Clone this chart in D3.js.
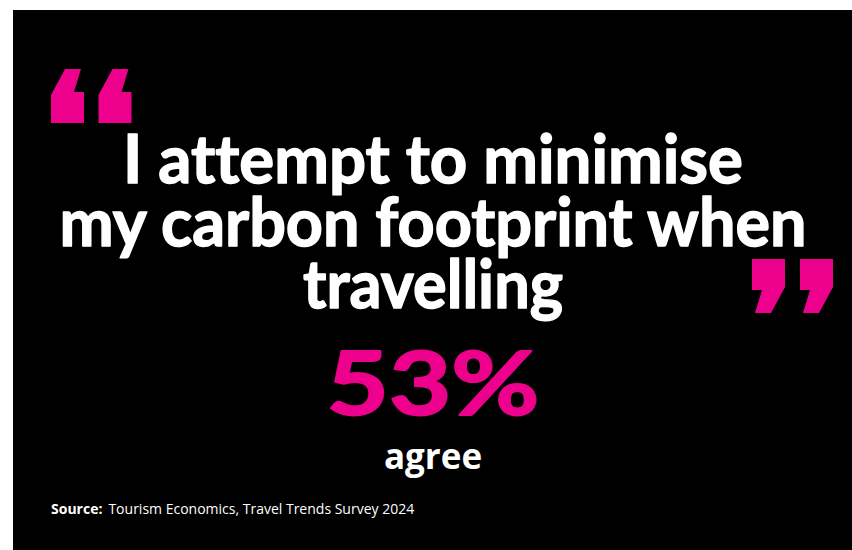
<!DOCTYPE html>
<html><head><meta charset="utf-8">
<script src="https://cdn.jsdelivr.net/npm/d3@7"></script>
<style>html,body{margin:0;padding:0;background:#fff;}svg{display:block;} text{font-variant-ligatures:none;font-feature-settings:"liga" 0;}</style>
</head><body>
<script>
const quoteLines = ["I attempt to minimise", "my carbon footprint when", "travelling"];
const shareValue = [53];
const shareLabel = ["agree"];
const sourceLabel = ["Source:", "Tourism Economics, Travel Trends Survey 2024"];

const W = 852, H = 550, pink = "#ec008c";
const svg = d3.select("body").append("svg").attr("width", W).attr("height", H);
svg.append("rect").attr("x", 13).attr("y", 10).attr("width", W - 13).attr("height", H - 10).attr("fill", "#000");

const cx = 433;
// quote glyph shape (opening), 33x54 box
const glyph = [[14,0],[30,0],[23,23],[33,23],[33,54],[0,54],[0,26]];
const line = d3.line();
const openPos = [[51,69],[98.5,69]];
const closePos = [[752,259],[800,259]];
svg.selectAll("path.open").data(openPos).join("path").attr("class","open")
  .attr("d", d => line(glyph.map(p => [d[0]+p[0], d[1]+p[1]]))).attr("fill", pink);
svg.selectAll("path.close").data(closePos).join("path").attr("class","close")
  .attr("d", d => line(glyph.map(p => [d[0]+33-p[0], d[1]+54-p[1]]))).attr("fill", pink);

const lineWidths = [620, 747, 260];
const yLine = d3.scalePoint().domain(d3.range(quoteLines.length)).range([183, 308]);
svg.selectAll("text.q").data(quoteLines).join("text").attr("class","q")
  .attr("x", cx).attr("y", (d,i) => yLine(i)).attr("text-anchor","middle")
  .attr("fill","#fff").attr("stroke","#fff").attr("stroke-width",1.4).attr("stroke-linejoin","round")
  .attr("font-family","Lato").attr("font-weight",700).attr("font-size",66)
  .attr("textLength", (d,i) => lineWidths[i]).attr("lengthAdjust","spacingAndGlyphs")
  .text(d => d);

const fmt = d3.format("d");
svg.append("text").attr("x", cx).attr("y", 415).attr("text-anchor","middle")
  .attr("fill", pink).attr("stroke", pink).attr("stroke-width",2).attr("stroke-linejoin","round")
  .attr("font-family","Lato").attr("font-weight",700).attr("font-size",88)
  .attr("textLength", 213).attr("lengthAdjust","spacingAndGlyphs")
  .text(fmt(shareValue[0]) + "%");
svg.append("text").attr("x", cx).attr("y", 469).attr("text-anchor","middle")
  .attr("fill", "#fff").attr("font-family","Open Sans").attr("font-weight",700).attr("font-size",35)
  .text(shareLabel[0]);

const src = svg.append("text").attr("x", 51).attr("y", 514).attr("fill","#fff")
  .attr("font-family","Open Sans").attr("font-size",14);
src.append("tspan").attr("font-weight",700).text(sourceLabel[0]);
src.append("tspan").attr("dx", 6).text(sourceLabel[1]);
</script>
</body></html>
